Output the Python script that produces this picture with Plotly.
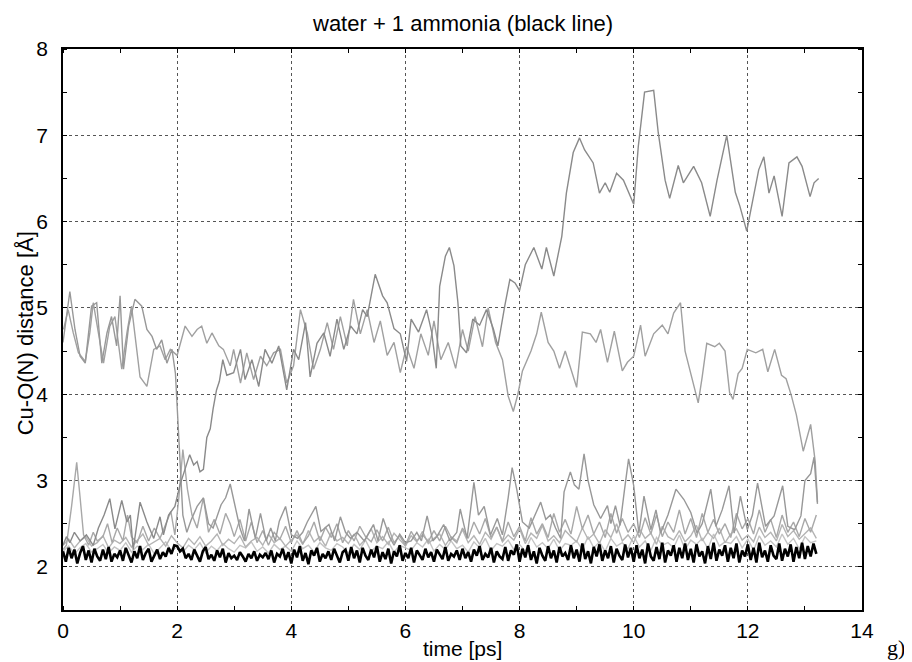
import numpy as np
import plotly.graph_objects as go

# ---------------- data ----------------
# ammonia N (black line), sampled every 0.05 ps from 0 to 13.2 ps
nh3_step = 0.05
nh3_y = [
    2.18, 2.06, 2.22, 2.10, 2.20, 2.04, 2.16, 2.24, 2.08, 2.19, 2.05, 2.21, 2.12, 2.07, 2.20, 2.09, 2.23, 2.06, 2.15, 2.11,
    2.19, 2.07, 2.22, 2.13, 2.05, 2.18, 2.10, 2.24, 2.08, 2.16, 2.21, 2.06, 2.14, 2.20, 2.09, 2.17, 2.12, 2.22, 2.15, 2.25,
    2.24, 2.18, 2.21, 2.10, 2.15, 2.08, 2.20, 2.12, 2.06, 2.18, 2.23, 2.09, 2.14, 2.07, 2.19, 2.11, 2.21, 2.05, 2.16, 2.10,
    2.13, 2.08, 2.17, 2.12, 2.06, 2.15, 2.10, 2.18, 2.07, 2.14, 2.11, 2.16, 2.09, 2.19, 2.05, 2.15, 2.12, 2.21, 2.08, 2.17,
    2.04, 2.20, 2.11, 2.24, 2.07, 2.16, 2.03, 2.19, 2.13, 2.22, 2.06, 2.15, 2.10, 2.18, 2.08, 2.21, 2.12, 2.05, 2.17, 2.20,
    2.07, 2.23, 2.10, 2.19, 2.05, 2.22, 2.13, 2.08, 2.20, 2.11, 2.24, 2.06, 2.17, 2.09, 2.21, 2.04, 2.18, 2.12, 2.25, 2.07,
    2.16, 2.10, 2.22, 2.05, 2.19, 2.13, 2.08, 2.21, 2.11, 2.17, 2.06, 2.20, 2.14, 2.09, 2.23, 2.07, 2.15, 2.12, 2.19, 2.08,
    2.21, 2.10, 2.17, 2.06, 2.20, 2.13, 2.24, 2.08, 2.15, 2.11, 2.22, 2.05, 2.18, 2.12, 2.09, 2.23, 2.07, 2.19, 2.14, 2.26,
    2.06, 2.21, 2.11, 2.25, 2.08, 2.18, 2.04, 2.22, 2.13, 2.07, 2.24, 2.10, 2.19, 2.05, 2.23, 2.12, 2.16, 2.08, 2.25, 2.10,
    2.20, 2.06, 2.27, 2.09, 2.18, 2.04, 2.23, 2.12, 2.26, 2.07, 2.19, 2.10, 2.24, 2.05, 2.21, 2.13, 2.08, 2.26, 2.11, 2.22,
    2.06, 2.25, 2.10, 2.20, 2.04, 2.27, 2.12, 2.07, 2.23, 2.09, 2.28, 2.05, 2.19, 2.13, 2.25, 2.06, 2.22, 2.10, 2.27, 2.08,
    2.21, 2.05, 2.26, 2.12, 2.18, 2.04, 2.24, 2.09, 2.28, 2.07, 2.20, 2.13, 2.25, 2.06, 2.22, 2.10, 2.27, 2.05, 2.19, 2.12,
    2.26, 2.08, 2.22, 2.05, 2.28, 2.11, 2.19, 2.06, 2.25, 2.13, 2.09, 2.27, 2.07, 2.21, 2.12, 2.26, 2.06, 2.23, 2.10, 2.28,
    2.09, 2.24, 2.12, 2.27, 2.15,
]

# two tightly bound waters, sampled every 0.1 ps
bound_step = 0.1
w1_y = [
    2.25, 2.32, 2.22, 2.30, 2.35, 2.24, 2.28, 2.36, 2.22, 2.31, 2.27, 2.34, 2.23, 2.30, 2.38, 2.25, 2.29, 2.33, 2.24, 2.36,
    2.28, 2.22, 2.33, 2.26, 2.35, 2.24, 2.30, 2.38, 2.25, 2.32, 2.27, 2.36, 2.23, 2.30, 2.34, 2.25, 2.38, 2.28, 2.33, 2.24,
    2.31, 2.37, 2.26, 2.42, 2.29, 2.35, 2.24, 2.40, 2.30, 2.34, 2.27, 2.38, 2.25, 2.32, 2.44, 2.28, 2.35, 2.26, 2.39, 2.31,
    2.24, 2.36, 2.29, 2.41, 2.27, 2.33, 2.38, 2.25, 2.35, 2.30, 2.43, 2.28, 2.36, 2.26, 2.40, 2.32, 2.46, 2.29, 2.37, 2.31,
    2.44, 2.27, 2.39, 2.33, 2.48, 2.30, 2.36, 2.28, 2.42, 2.35, 2.29, 2.45, 2.32, 2.38, 2.27, 2.43, 2.34, 2.50, 2.30, 2.37,
    2.28, 2.44, 2.33, 2.39, 2.26, 2.47, 2.35, 2.31, 2.42, 2.29, 2.36, 2.48, 2.30, 2.40, 2.33, 2.45, 2.28, 2.38, 2.44, 2.31,
    2.37, 2.29, 2.46, 2.34, 2.40, 2.30, 2.49, 2.35, 2.42, 2.32, 2.38, 2.45, 2.33,
]
w2_y = [
    2.18, 2.24, 2.15, 2.22, 2.27, 2.17, 2.21, 2.26, 2.16, 2.23, 2.19, 2.28, 2.17, 2.24, 2.20, 2.26, 2.15, 2.22, 2.29, 2.18,
    2.23, 2.17, 2.25, 2.20, 2.28, 2.16, 2.24, 2.19, 2.27, 2.21, 2.17, 2.25, 2.22, 2.29, 2.18, 2.23, 2.16, 2.26, 2.20, 2.24,
    2.18, 2.30, 2.21, 2.25, 2.17, 2.28, 2.22, 2.19, 2.27, 2.23, 2.16, 2.26, 2.20, 2.31, 2.18, 2.24, 2.21, 2.29, 2.17, 2.25,
    2.22, 2.19, 2.28, 2.23, 2.32, 2.18, 2.26, 2.20, 2.30, 2.21, 2.25, 2.17, 2.29, 2.22, 2.33, 2.19, 2.27, 2.24, 2.31, 2.20,
    2.26, 2.18, 2.34, 2.23, 2.28, 2.21, 2.32, 2.19, 2.27, 2.25, 2.30, 2.20, 2.35, 2.22, 2.29, 2.18, 2.33, 2.24, 2.28, 2.21,
    2.36, 2.23, 2.30, 2.19, 2.34, 2.25, 2.28, 2.22, 2.37, 2.20, 2.31, 2.26, 2.33, 2.21, 2.38, 2.24, 2.29, 2.27, 2.35, 2.22,
    2.32, 2.19, 2.36, 2.25, 2.30, 2.23, 2.38, 2.26, 2.33, 2.21, 2.35, 2.28, 2.30,
]

# axial water, stays bound with excursions
w3_t = [0.0, 0.06, 0.15, 0.24, 0.3, 0.36, 0.45, 0.53, 0.6, 0.7, 0.78, 0.86, 0.95, 1.05, 1.13, 1.2, 1.3, 1.4, 1.5, 1.6,
        1.7, 1.8, 1.89, 1.96, 2.03, 2.1, 2.18, 2.26, 2.35, 2.46, 2.55, 2.65, 2.75, 2.85, 2.93, 3.0, 3.1, 3.2, 3.3, 3.4,
        3.5, 3.6, 3.7, 3.8, 3.9, 4.0, 4.1, 4.2, 4.3, 4.4, 4.5, 4.6, 4.7, 4.8, 4.9, 5.0, 5.1, 5.2, 5.3, 5.4,
        5.5, 5.6, 5.7, 5.8, 5.9, 6.0, 6.1, 6.2, 6.3, 6.4, 6.5, 6.6, 6.7, 6.8, 6.9, 7.0, 7.1, 7.2, 7.3, 7.4,
        7.5, 7.6, 7.7, 7.8, 7.9, 8.0, 8.1, 8.2, 8.3, 8.4, 8.5, 8.6, 8.7, 8.8, 8.9, 9.0, 9.1, 9.2, 9.3, 9.4,
        9.5, 9.6, 9.7, 9.8, 9.9, 10.0, 10.1, 10.2, 10.3, 10.4, 10.5, 10.6, 10.7, 10.8, 10.9, 11.0, 11.1, 11.2, 11.3, 11.4,
        11.5, 11.6, 11.7, 11.8, 11.9, 12.0, 12.1, 12.2, 12.3, 12.4, 12.5, 12.6, 12.7, 12.8, 12.9, 13.0, 13.1, 13.2]
w3_y = [2.2, 2.25, 2.7, 3.21, 2.8, 2.37, 2.25, 2.4, 2.3, 2.35, 2.5, 2.28, 2.45, 2.3, 2.6, 2.35, 2.28, 2.47, 2.3, 2.45,
        2.33, 2.5, 2.64, 2.37, 2.8, 3.36, 2.9, 2.6, 2.45, 2.8, 2.4, 2.55, 2.38, 2.62, 2.5, 2.35, 2.55, 2.3, 2.52, 2.28,
        2.42, 2.25, 2.4, 2.32, 2.47, 2.28, 2.42, 2.27, 2.36, 2.52, 2.3, 2.46, 2.34, 2.5, 2.28, 2.42, 2.3, 2.47, 2.35, 2.29,
        2.43, 2.3, 2.46, 2.28, 2.36, 2.25, 2.41, 2.3, 2.37, 2.29, 2.42, 2.3, 2.47, 2.34, 2.28, 2.45, 2.33, 2.52, 2.38, 2.56,
        2.34, 2.46, 2.3, 2.52, 2.35, 2.47, 2.3, 2.57, 2.38, 2.5, 2.34, 2.62, 2.4, 2.55, 2.38, 2.7, 2.44, 2.6, 2.38, 2.52,
        2.34, 2.62, 2.39, 2.56, 2.4, 2.5, 2.34, 2.57, 2.38, 2.6, 2.35, 2.52, 2.4, 2.66, 2.38, 2.56, 2.34, 2.62, 2.4, 2.55,
        2.38, 2.5, 2.34, 2.62, 2.44, 2.56, 2.38, 2.66, 2.4, 2.55, 2.34, 2.6, 2.4, 2.52, 2.35, 2.56, 2.4, 2.6]

# water bound at start, leaves at ~2.5 ps and drifts out to ~7 A
w4_t = [0.0, 0.06, 0.12, 0.2, 0.3, 0.41, 0.53, 0.62, 0.72, 0.82, 0.91, 1.03, 1.12, 1.18, 1.23, 1.35, 1.47, 1.59, 1.7, 1.76,
        1.85, 1.96, 2.05, 2.15, 2.22, 2.29, 2.35, 2.4, 2.46, 2.52, 2.58, 2.63, 2.69, 2.74, 2.8, 2.87, 2.99, 3.11, 3.19, 3.31,
        3.43, 3.54, 3.66, 3.78, 3.92, 4.04, 4.13, 4.25, 4.33, 4.45, 4.57, 4.68, 4.8, 4.92, 5.04, 5.15, 5.25, 5.33, 5.47, 5.6,
        5.68, 5.8, 5.91, 6.02, 6.1, 6.23, 6.37, 6.46, 6.54, 6.6, 6.7, 6.77, 6.85, 6.92, 6.97, 7.07, 7.18, 7.3, 7.42, 7.54,
        7.62, 7.74, 7.83, 7.92, 8.0, 8.1, 8.25, 8.39, 8.47, 8.6, 8.74, 8.82, 8.94, 9.05, 9.14, 9.29, 9.4, 9.5, 9.58, 9.7,
        9.82, 10.0, 10.08, 10.19, 10.35, 10.43, 10.55, 10.63, 10.78, 10.87, 11.05, 11.19, 11.34, 11.46, 11.63, 11.78, 11.86, 11.98, 12.07, 12.19,
        12.28, 12.37, 12.46, 12.6, 12.72, 12.86, 12.95, 13.09, 13.16, 13.24]
w4_y = [2.25, 2.35, 2.28, 2.4, 2.3, 2.37, 2.25, 2.45, 2.6, 2.79, 2.44, 2.77, 2.52, 2.6, 2.2, 2.75, 2.52, 2.33, 2.58, 2.37,
        2.6, 2.7, 2.95, 3.15, 3.3, 3.18, 3.22, 3.1, 3.13, 3.5, 3.6, 3.83, 4.05, 4.15, 4.4, 4.22, 4.25, 4.52, 4.17, 4.4,
        4.09, 4.52, 4.36, 4.56, 4.05, 4.52, 4.4, 4.83, 4.2, 4.59, 4.71, 4.44, 4.87, 4.52, 4.79, 4.7, 4.98, 4.9, 5.39, 5.14,
        5.06, 4.76, 4.7, 4.38, 4.87, 4.72, 4.98, 4.72, 4.3, 5.25, 5.6, 5.7, 5.49, 5.06, 4.56, 4.48, 4.87, 4.8, 4.98, 4.76,
        4.56, 5.02, 5.33, 5.29, 5.2, 5.5, 5.7, 5.45, 5.7, 5.37, 5.83, 6.33, 6.8, 6.97, 6.83, 6.68, 6.33, 6.45, 6.34, 6.56,
        6.48, 6.2, 6.87, 7.5, 7.52, 7.03, 6.48, 6.27, 6.65, 6.45, 6.64, 6.45, 6.06, 6.48, 7.0, 6.34, 6.18, 5.89, 6.18, 6.6,
        6.75, 6.33, 6.53, 6.06, 6.68, 6.75, 6.64, 6.29, 6.45, 6.5]

# water in second shell at start, enters at ~2 ps
w5_t = [0.0, 0.12, 0.21, 0.3, 0.39, 0.5, 0.59, 0.68, 0.77, 0.85, 0.94, 1.0, 1.06, 1.15, 1.26, 1.38, 1.47, 1.56, 1.64, 1.73,
        1.82, 1.91, 1.97, 2.02, 2.06, 2.1, 2.17, 2.25, 2.35, 2.46, 2.55, 2.63, 2.77, 2.85, 2.93, 3.02, 3.1, 3.18, 3.26, 3.37,
        3.46, 3.56, 3.64, 3.72, 3.79, 3.9, 4.0, 4.11, 4.2, 4.28, 4.43, 4.52, 4.66, 4.76, 4.86, 4.95, 5.04, 5.15, 5.28, 5.44,
        5.52, 5.61, 5.72, 5.8, 5.9, 6.0, 6.1, 6.2, 6.28, 6.38, 6.48, 6.55, 6.67, 6.78, 6.9, 6.96, 7.08, 7.2, 7.28, 7.38,
        7.49, 7.61, 7.7, 7.8, 7.87, 7.95, 8.05, 8.17, 8.27, 8.37, 8.46, 8.54, 8.63, 8.72, 8.78, 8.89, 8.96, 9.04, 9.13, 9.2,
        9.3, 9.42, 9.54, 9.6, 9.68, 9.76, 9.84, 9.91, 10.0, 10.09, 10.18, 10.3, 10.39, 10.47, 10.6, 10.74, 10.88, 11.0, 11.11, 11.2,
        11.35, 11.44, 11.55, 11.67, 11.76, 11.87, 11.99, 12.08, 12.17, 12.31, 12.46, 12.61, 12.7, 12.82, 12.93, 13.0, 13.1, 13.16, 13.22]
w5_y = [4.6, 5.19, 4.75, 4.44, 4.36, 5.02, 5.06, 4.36, 4.71, 4.9, 4.56, 5.14, 4.29, 4.79, 5.1, 5.02, 4.75, 4.67, 4.52, 4.63,
        4.36, 4.52, 4.24, 3.6, 3.0, 2.6, 2.4, 2.55, 2.7, 2.8, 2.5, 2.45, 2.72, 2.8, 2.96, 2.7, 2.45, 2.3, 2.67, 2.33,
        2.62, 2.3, 2.45, 2.3, 2.53, 2.7, 2.37, 2.33, 2.4, 2.52, 2.7, 2.41, 2.49, 2.3, 2.58, 2.4, 2.33, 2.4, 2.3, 2.49,
        2.3, 2.56, 2.35, 2.25, 2.38, 2.28, 2.3, 2.4, 2.3, 2.59, 2.3, 2.35, 2.49, 2.3, 2.4, 2.67, 2.33, 2.98, 2.6, 2.7,
        2.37, 2.56, 2.37, 2.8, 3.15, 2.9, 2.52, 2.45, 2.6, 2.75, 2.55, 2.6, 2.45, 2.33, 2.87, 3.1, 2.95, 2.9, 3.31, 3.0,
        2.72, 2.56, 2.71, 2.5, 2.71, 2.48, 2.9, 3.25, 2.94, 2.39, 2.82, 2.43, 2.66, 2.39, 2.6, 2.9, 2.78, 2.63, 2.39, 2.5,
        2.9, 2.47, 2.66, 2.94, 2.39, 2.82, 2.43, 2.6, 2.97, 2.47, 2.59, 2.94, 2.47, 2.43, 2.59, 3.0, 3.08, 3.27, 2.73]

# second-shell water that only approaches at the very end
w6_t = [0.01, 0.09, 0.18, 0.27, 0.39, 0.47, 0.53, 0.62, 0.71, 0.82, 0.91, 1.03, 1.12, 1.2, 1.35, 1.47, 1.59, 1.7, 1.79, 1.88,
        2.0, 2.14, 2.26, 2.35, 2.43, 2.52, 2.61, 2.73, 2.81, 2.93, 2.99, 3.11, 3.22, 3.34, 3.46, 3.57, 3.69, 3.81, 3.92, 4.04,
        4.16, 4.28, 4.39, 4.51, 4.63, 4.74, 4.86, 4.98, 5.09, 5.21, 5.33, 5.45, 5.56, 5.68, 5.8, 5.91, 6.02, 6.15, 6.27, 6.4,
        6.5, 6.62, 6.75, 6.88, 7.0, 7.1, 7.22, 7.35, 7.45, 7.58, 7.7, 7.8, 7.89, 7.97, 8.05, 8.2, 8.3, 8.38, 8.5, 8.6,
        8.7, 8.8, 8.9, 9.0, 9.1, 9.24, 9.34, 9.42, 9.54, 9.66, 9.8, 9.89, 10.0, 10.12, 10.2, 10.35, 10.5, 10.6, 10.7, 10.82,
        10.9, 10.99, 11.13, 11.2, 11.28, 11.42, 11.5, 11.6, 11.68, 11.74, 11.83, 11.9, 11.99, 12.14, 12.26, 12.35, 12.47, 12.59, 12.67, 12.76,
        12.85, 12.97, 13.1, 13.18, 13.22]
w6_y = [4.75, 4.98, 4.71, 4.48, 4.38, 4.71, 5.06, 4.71, 4.36, 4.79, 4.9, 4.29, 4.71, 5.02, 4.2, 4.09, 4.52, 4.56, 4.4, 4.52,
        4.45, 4.79, 4.67, 4.75, 4.79, 4.59, 4.71, 4.56, 4.52, 4.33, 4.52, 4.13, 4.48, 4.17, 4.44, 4.33, 4.48, 4.52, 4.13, 4.33,
        4.98, 4.71, 4.29, 4.52, 4.83, 4.52, 4.9, 4.56, 5.1, 4.7, 4.98, 4.6, 4.85, 4.45, 4.6, 4.25, 4.55, 4.3, 4.7, 4.45,
        4.85, 4.4, 4.6, 4.3, 4.75, 4.5, 4.9, 4.55, 5.0, 4.6, 4.4, 3.98, 3.8, 4.0, 4.27, 4.5, 4.7, 4.95, 4.6, 4.5,
        4.3, 4.5, 4.3, 4.08, 4.72, 4.7, 4.6, 4.75, 4.37, 4.73, 4.27, 4.37, 4.44, 4.8, 4.44, 4.7, 4.8, 4.7, 4.94, 5.06,
        4.5, 4.26, 3.9, 4.2, 4.59, 4.55, 4.59, 4.5, 4.02, 3.94, 4.24, 4.3, 4.52, 4.48, 4.52, 4.26, 4.52, 4.22, 4.18, 3.99,
        3.76, 3.34, 3.65, 3.22, 2.75]

x_ticks = [0, 2, 4, 6, 8, 10, 12, 14]
y_ticks = [2, 3, 4, 5, 6, 7, 8]

# ---------------- figure ----------------
nh3_t = np.round(np.arange(len(nh3_y)) * nh3_step, 3)
bound_t = np.round(np.arange(len(w1_y)) * bound_step, 3)

SANS = "Liberation Sans, Arial, sans-serif"

fig = go.Figure()
gray_series = [
    (bound_t, w2_y, "#c4c4c4"),
    (bound_t, w1_y, "#b4b4b4"),
    (w3_t, w3_y, "#a8a8a8"),
    (w6_t, w6_y, "#a0a0a0"),
    (w5_t, w5_y, "#989898"),
    (w4_t, w4_y, "#8a8a8a"),
]
for t, y, c in gray_series:
    fig.add_trace(go.Scatter(x=t, y=y, mode="lines", line=dict(color=c, width=1.4),
                             showlegend=False, hoverinfo="skip"))
fig.add_trace(go.Scatter(x=nh3_t, y=nh3_y, mode="lines", line=dict(color="#000000", width=2.6),
                         showlegend=False, hoverinfo="skip"))

axis_common = dict(
    showline=True, linecolor="black", linewidth=1.5, mirror="ticks",
    showgrid=True, gridcolor="#555555", griddash="dot", gridwidth=1,
    zeroline=False, ticks="", automargin=False,
    tickfont=dict(family=SANS, size=21, color="black"),
    minor=dict(ticks="inside", ticklen=4, tickcolor="black", showgrid=False),
)

# the page body adds an 8 px offset, so margins are shifted accordingly
fig.update_layout(
    width=912, height=662,
    margin=dict(l=55, r=58, t=41, b=60),
    paper_bgcolor="white", plot_bgcolor="white",
    font=dict(family=SANS, color="black"),
    xaxis=dict(range=[0, 14], tickvals=x_ticks, ticklabelstandoff=1, **axis_common),
    yaxis=dict(range=[1.5, 8], tickvals=y_ticks, ticklabelstandoff=9, **axis_common),
    annotations=[
        dict(text="water + 1 ammonia (black line)", xref="paper", yref="paper", x=0.5, y=1.046,
             xanchor="center", yanchor="middle", showarrow=False, font=dict(size=22)),
        dict(text="time [ps]", xref="paper", yref="paper", x=0.5, y=-0.068,
             xanchor="center", yanchor="middle", showarrow=False, font=dict(size=21)),
        dict(text="Cu-O(N) distance [Å]", xref="paper", yref="paper", x=-0.047, y=0.494,
             xanchor="center", yanchor="middle", textangle=-90, showarrow=False, font=dict(size=22)),
        dict(text="g)", xref="paper", yref="paper", x=1.0425, y=-0.066, xanchor="center", yanchor="middle",
             showarrow=False, font=dict(family="Liberation Serif, Times New Roman, serif", size=22)),
    ],
)
fig.update_xaxes(minor_dtick=1)
fig.update_yaxes(minor_dtick=0.5)

fig.write_html("out.html")
